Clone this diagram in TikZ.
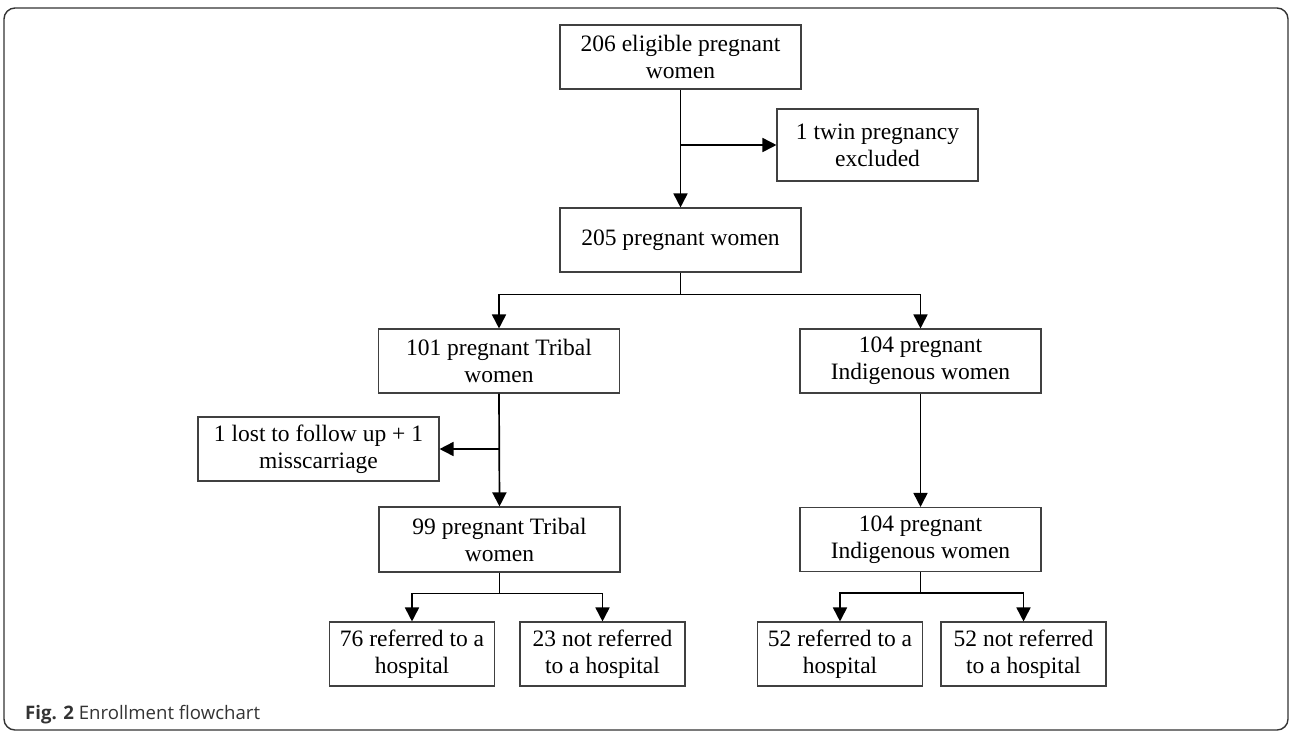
\documentclass[tikz,border=0pt]{standalone}
\usepackage{fontspec}
\setmainfont{Liberation Serif}
\newfontfamily\capfont{Open Sans}
\usepackage{tikz}
\usetikzlibrary{arrows.meta}

\tikzset{
  box/.style={draw=black!75, line width=1.1pt, inner sep=0pt, align=center,
    minimum height=64pt, font=\fontsize{23.5}{27}\selectfont},
  wide/.style={box, minimum width=241pt},
  narrow/.style={box, minimum width=165pt},
  arr/.style={line width=1.7pt, -{Triangle[length=14pt,width=14pt]}},
  ln/.style={line width=1.7pt}
}

\begin{document}
\begin{tikzpicture}[x=1pt,y=-1pt]
  \useasboundingbox (0,0) rectangle (1292,732);
  \draw[black!80, line width=1.4pt, rounded corners=11pt] (4,8) rectangle (1288,730);

  % top of the chart
  \node[wide] (elig) at (680.5,57) {206 eligible pregnant\\women};
  \node[box, minimum width=201pt, minimum height=72pt] (twin) at (877.5,145) {1 twin pregnancy\\excluded};
  \node[wide] (all) at (680.5,240) {205 pregnant women};

  % two groups
  \node[wide] (trib) at (499,361) {101 pregnant Tribal\\women};
  \node[wide] (indig) at (920.5,361) {104 pregnant\\Indigenous women};
  \node[wide] (lost) at (318.5,449) {1 lost to follow up + 1\\misscarriage};
  \node[wide, minimum height=65pt] (tribB) at (499.5,539.5) {99 pregnant Tribal\\women};
  \node[wide] (indigB) at (920.5,539.5) {104 pregnant\\Indigenous women};

  % referrals
  \node[narrow] (t76) at (412,654) {76 referred to a\\hospital};
  \node[narrow] (t23) at (602.5,654) {23 not referred\\to a hospital};
  \node[narrow] (i52r) at (840,654) {52 referred to a\\hospital};
  \node[narrow] (i52n) at (1023.5,654) {52 not referred\\to a hospital};

  \draw[arr] (elig.south) -- (all.north);
  \draw[arr] (elig.south |- twin.west) -- (twin.west);
  \draw[arr] (all.south) -- ++(0,22) -| (trib.north);
  \draw[arr] (all.south) -- ++(0,22) -| (indig.north);
  \draw[arr] (trib.south) -- (tribB.north);
  \draw[arr] (trib.south |- lost.east) -- (lost.east);
  \draw[arr] (indig.south) -- (indigB.north);
  \draw[arr] (tribB.south) -- ++(0,21) -| (t76.north);
  \draw[arr] (tribB.south) -- ++(0,21) -| (t23.north);
  \draw[arr] (indigB.south) -- ++(0,21) -| (i52r.north);
  \draw[arr] (indigB.south) -- ++(0,21) -| (i52n.north);

  \node[anchor=base west, inner sep=0pt, font=\capfont\fontsize{18.6}{22}\selectfont, text=black!80] (cap) at (25,719) {\textbf{Fig. 2} Enrollment flowchart};
\end{tikzpicture}
\end{document}
